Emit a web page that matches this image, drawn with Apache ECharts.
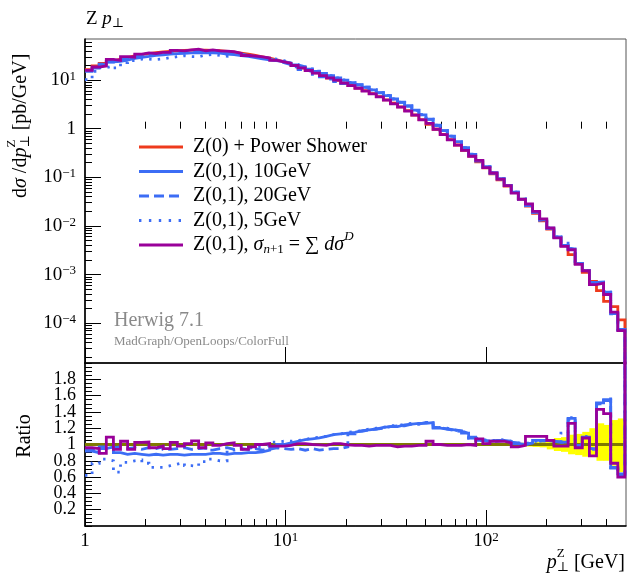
<!DOCTYPE html>
<html>
<head>
<meta charset="utf-8">
<title>Z pT</title>
<script src="https://cdn.jsdelivr.net/npm/echarts@6.0.0/dist/echarts.min.js"></script>
<style>
html, body { margin: 0; padding: 0; background: #ffffff; }
#chart { width: 627px; height: 580px; }
</style>
</head>
<body>
<div id="chart"></div>
<script>
// Binning: 100 log-spaced bins between 1 and 3500 GeV; the axis shows 1-500 GeV.
const binCount = 100;
const binLow = 1;
const binHigh = 3500;
const ptAxisMin = 1;
const ptAxisMax = 500;

// Z(0) + Power Shower, dsigma/dpT [pb/GeV], bins 0-76 (bin 76 is empty)
const powerShower = [
  16.4, 19.5, 21.9, 24.5, 26.9, 29.2, 31.4, 33.3, 35.1, 36.6,
  37.8, 38.9, 39.8, 40.6, 41.1, 41.4, 41.3, 40.8, 40.0, 38.8,
  37.4, 35.8, 34.0, 32.1, 30.1, 28.1, 26.0, 24.0, 22.1, 19.7,
  17.6, 15.7, 14.0, 12.4, 11.0, 9.82, 8.71, 7.73, 6.84, 6.03,
  5.26, 4.56, 3.92, 3.34, 2.82, 2.34, 1.91, 1.53, 1.23, 0.973,
  0.764, 0.596, 0.462, 0.357, 0.274, 0.208, 0.157, 0.118, 0.0885, 0.0659,
  0.0488, 0.0356, 0.0257, 0.0182, 0.0127, 0.00863, 0.00581, 0.00388, 0.00257, 0.00169,
  0.00111, 0.000724, 0.000467, 0.000282, 0.000219, 0.000117, 0
];

// Ratios to Z(0) + Power Shower, bins 0-75
const ratio10GeV = [
  0.92, 0.90, 0.95, 0.97, 0.90, 0.88, 0.89, 0.88, 0.87, 0.88,
  0.87, 0.88, 0.88, 0.87, 0.88, 0.88, 0.88, 0.89, 0.89, 0.88,
  0.89, 0.89, 0.90, 0.90, 0.91, 0.93, 0.96, 1.00, 1.02, 1.04,
  1.06, 1.07, 1.08, 1.10, 1.12, 1.13, 1.14, 1.15, 1.17, 1.18,
  1.19, 1.21, 1.22, 1.22, 1.24, 1.25, 1.26, 1.26, 1.27, 1.20,
  1.19, 1.18, 1.17, 1.14, 1.08, 1.05, 1.04, 1.05, 1.05, 1.04,
  1.01, 1.00, 1.02, 1.05, 1.05, 1.04, 1.03, 1.03, 1.32, 0.99,
  1.09, 0.95, 1.51, 1.55, 0.72, 0.64
];
const ratio20GeV = [
  0.95, 0.93, 0.97, 0.96, 0.97, 0.95, 0.96, 0.94, 0.96, 0.95,
  0.97, 0.94, 0.95, 0.96, 0.94, 0.95, 0.96, 0.93, 0.95, 0.96,
  0.94, 0.95, 0.94, 0.95, 0.93, 0.94, 0.96, 0.95, 0.94, 0.95,
  0.93, 0.95, 0.93, 0.94, 0.95, 0.95, 0.97, 1.13, 1.16, 1.18,
  1.19, 1.20, 1.22, 1.23, 1.23, 1.25, 1.25, 1.27, 1.26, 1.21,
  1.19, 1.17, 1.16, 1.14, 1.09, 1.05, 1.04, 1.04, 1.05, 1.03,
  1.02, 1.00, 1.02, 1.04, 1.05, 1.04, 1.03, 1.02, 1.31, 1.00,
  1.08, 0.94, 1.50, 1.54, 0.71, 0.63
];
const ratio5GeV = [
  0.62, 0.77, 0.82, 0.80, 0.66, 0.78, 0.80, 0.81, 0.77, 0.72,
  0.72, 0.74, 0.76, 0.78, 0.74, 0.73, 0.79, 0.82, 0.80, 0.80,
  0.93, 0.94, 0.95, 0.97, 0.98, 1.00, 1.03, 1.04, 1.04, 1.05,
  1.06, 1.08, 1.09, 1.10, 1.12, 1.13, 1.15, 1.16, 1.17, 1.19,
  1.20, 1.21, 1.23, 1.23, 1.25, 1.26, 1.25, 1.27, 1.27, 1.21,
  1.20, 1.18, 1.16, 1.14, 1.08, 1.06, 1.05, 1.05, 1.06, 1.04,
  1.02, 1.01, 1.03, 1.05, 1.04, 1.05, 1.03, 1.14, 1.33, 0.99,
  1.10, 0.95, 1.50, 1.56, 0.72, 0.62
];
const ratioSigma = [
  0.96, 0.95, 0.89, 1.09, 0.94, 1.04, 0.94, 1.025, 1.03, 0.96,
  0.98, 0.95, 1.025, 0.98, 1.01, 1.045, 0.96, 1.02, 0.99, 1.01,
  1.02, 0.99, 0.94, 0.97, 1.00, 1.01, 0.98, 0.98, 0.99, 1.01,
  1.01, 1.00, 0.995, 0.99, 1.01, 1.01, 0.995, 0.99, 0.99, 0.98,
  0.99, 0.99, 0.99, 0.97, 0.98, 0.98, 0.99, 0.99, 1.04, 1.00,
  0.99, 0.99, 0.99, 1.00, 0.99, 1.07, 1.01, 1.04, 1.04, 1.02,
  0.97, 0.99, 1.10, 1.10, 1.10, 1.05, 0.98, 0.98, 1.26, 0.96,
  1.08, 0.86, 1.43, 1.38, 0.77, 0.60
];

// Relative statistical uncertainty of Z(0) + Power Shower, bins 0-75
const bandUp = [
  0.008, 0.008, 0.008, 0.008, 0.008, 0.008, 0.008, 0.008, 0.008, 0.008,
  0.008, 0.008, 0.008, 0.008, 0.008, 0.008, 0.008, 0.008, 0.008, 0.008,
  0.008, 0.008, 0.008, 0.008, 0.008, 0.008, 0.008, 0.008, 0.008, 0.008,
  0.008, 0.008, 0.008, 0.008, 0.008, 0.008, 0.008, 0.008, 0.008, 0.008,
  0.008, 0.008, 0.008, 0.008, 0.008, 0.008, 0.008, 0.008, 0.008, 0.008,
  0.008, 0.009, 0.009, 0.009, 0.010, 0.010, 0.010, 0.012, 0.014, 0.016,
  0.020, 0.022, 0.025, 0.030, 0.035, 0.060, 0.080, 0.090, 0.120, 0.130,
  0.155, 0.200, 0.260, 0.240, 0.300, 0.320
];
const bandDown = [
  0.008, 0.008, 0.008, 0.008, 0.008, 0.008, 0.008, 0.008, 0.008, 0.008,
  0.008, 0.008, 0.008, 0.008, 0.008, 0.008, 0.008, 0.008, 0.008, 0.008,
  0.008, 0.008, 0.008, 0.008, 0.008, 0.008, 0.008, 0.008, 0.008, 0.008,
  0.008, 0.008, 0.008, 0.008, 0.008, 0.008, 0.008, 0.008, 0.008, 0.008,
  0.008, 0.008, 0.008, 0.008, 0.008, 0.008, 0.008, 0.008, 0.008, 0.008,
  0.008, 0.009, 0.009, 0.009, 0.010, 0.010, 0.010, 0.012, 0.014, 0.016,
  0.020, 0.022, 0.025, 0.030, 0.035, 0.060, 0.080, 0.090, 0.120, 0.130,
  0.150, 0.150, 0.200, 0.200, 0.260, 0.340
];

// Axis ticks
const ptMajorTicks = [1, 10, 100];
const ptMinorTicks = [2, 3, 4, 5, 6, 7, 8, 9, 20, 30, 40, 50, 60, 70, 80, 90, 200, 300, 400];
const xsecMajorTicks = [1e-4, 1e-3, 1e-2, 1e-1, 1, 10];
const xsecAxisMin = 1.52e-5;
const xsecAxisMax = 69.8;
const ratioTicks = [0.2, 0.4, 0.6, 0.8, 1.0, 1.2, 1.4, 1.6, 1.8];
const ratioMinorStep = 0.05;
const ratioAxisMin = 0;
const ratioAxisMax = 2;

const legendLabels = ['Z(0) + Power Shower', 'Z(0,1), 10GeV', 'Z(0,1), 20GeV', 'Z(0,1), 5GeV'];

const COLORS = { red: '#ee3a1c', blue: '#3c6df5', purple: '#990099', olive: '#7f7a00', band: '#ffff00' };
const FONT = '"Liberation Serif", "DejaVu Serif", serif';
const LW = 2.8;
const DASH = [10, 5];
const DOT = [2.4, 6.2];

// ---------- helpers ----------
const lg = Math.log10;
const logStep = lg(binHigh / binLow) / binCount;
const edge = k => lg(binLow) + k * logStep;
const LOG_FLOOR = -9;   // empty bins run off the bottom of the log panel
const OFF_TOP = 5;      // undefined ratios run off the top of the ratio panel

function stepPoints(values) {
  const pts = [];
  values.forEach((v, k) => { pts.push([edge(k), v], [edge(k + 1), v]); });
  return pts;
}
function spectrum(ratio) {
  return powerShower.map((v, k) => {
    const y = ratio ? (k < ratio.length ? v * ratio[k] : 0) : v;
    return y > 0 ? lg(y) : LOG_FLOOR;
  });
}
function ratioLine(ratio) {
  return powerShower.map((v, k) => (v > 0 && k < ratio.length) ? ratio[k] : OFF_TOP);
}

const measureCtx = document.createElement('canvas').getContext('2d');
function fontOf(size, italic) { return (italic ? 'italic ' : '') + size + 'px ' + FONT; }
function textW(t, size, italic) { measureCtx.font = fontOf(size, italic); return measureCtx.measureText(t).width; }

// lays out text pieces along one line; pieces can be raised/lowered and stacked
function mathRun(pieces, size, color) {
  let x = 0, pending = 0;
  const children = [];
  pieces.forEach(p => {
    const s = p.size || size;
    children.push({
      type: 'text', x: x, y: p.dy || 0, silent: true,
      style: { text: p.t, font: fontOf(s, p.italic), fill: color || '#000',
               align: 'left', verticalAlign: 'middle', textAlign: 'left', textVerticalAlign: 'middle' }
    });
    const w = textW(p.t, s, p.italic);
    if (p.stack) { pending = Math.max(pending, w); }
    else { x += Math.max(w, pending); pending = 0; }
  });
  return { children, width: x };
}

// ---------- axes ----------
const richNum = {
  b: { fontFamily: FONT, fontSize: 19, lineHeight: 20, color: '#000' },
  s: { fontFamily: FONT, fontSize: 13, lineHeight: 5, verticalAlign: 'top', color: '#000' }
};
function powLabel(n) {
  if (n === 0) return '{b|1}';
  return '{b|10}{s|' + (n < 0 ? '\u2212' + (-n) : n) + '}';
}
const tickStyle = { color: '#000', width: 1 };

function ptAxes(gridIndex, withLabels) {
  const base = { type: 'value', gridIndex, min: lg(ptAxisMin), max: lg(ptAxisMax), position: 'bottom',
                 splitLine: { show: false } };
  return [
    Object.assign({}, base, {
      axisLine: { show: true, onZero: false, lineStyle: { color: '#000', width: 1.6 } },
      axisTick: { show: true, inside: true, length: 16, customValues: ptMajorTicks.map(lg), lineStyle: tickStyle },
      axisLabel: { show: withLabels, customValues: ptMajorTicks.map(lg), margin: 5, rich: richNum,
                   showMinLabel: true, showMaxLabel: true, hideOverlap: false,
                   formatter: v => powLabel(Math.round(v)) }
    }),
    Object.assign({}, base, {
      axisLine: { show: false },
      axisTick: { show: true, inside: true, length: 7, customValues: ptMinorTicks.map(lg), lineStyle: tickStyle },
      axisLabel: { show: false }
    })
  ];
}

const xsecMinor = [];
for (let n = -5; n <= 1; n++) for (let m = 2; m <= 9; m++) xsecMinor.push(n + lg(m));
const ratioMinor = [];
for (let r = ratioAxisMin; r <= ratioAxisMax + 1e-9; r += ratioMinorStep) ratioMinor.push(+r.toFixed(2));

// the ratio labels sit close together, so they are shared between the two stacked ratio axes
const ratioLabelsA = ratioTicks.filter((v, i) => i % 2 === 0);
const ratioLabelsB = ratioTicks.filter((v, i) => i % 2 === 1);
const ratioLabelStyle = (values) => ({
  show: true, customValues: values, margin: 9, fontFamily: FONT, fontSize: 18, lineHeight: 13,
  color: '#000', showMinLabel: true, showMaxLabel: true, hideOverlap: false,
  formatter: v => Math.abs(v - 1) < 1e-9 ? '1' : v.toFixed(1)
});

const yAxes = [
  { type: 'value', gridIndex: 0, min: lg(xsecAxisMin), max: lg(xsecAxisMax), position: 'left', splitLine: { show: false },
    axisLine: { show: true, onZero: false, lineStyle: { color: '#000', width: 1.6 } },
    axisTick: { show: true, inside: true, length: 16, customValues: xsecMajorTicks.map(lg), lineStyle: tickStyle },
    axisLabel: { show: true, customValues: xsecMajorTicks.map(lg), margin: 9, rich: richNum, align: 'right',
                 showMinLabel: true, showMaxLabel: true, hideOverlap: false,
                 formatter: v => powLabel(Math.round(v)) } },
  { type: 'value', gridIndex: 0, min: lg(xsecAxisMin), max: lg(xsecAxisMax), position: 'left', splitLine: { show: false },
    axisLine: { show: false },
    axisTick: { show: true, inside: true, length: 7, customValues: xsecMinor, lineStyle: tickStyle },
    axisLabel: { show: false } },
  { type: 'value', gridIndex: 1, min: ratioAxisMin, max: ratioAxisMax, position: 'left', splitLine: { show: false },
    axisLine: { show: true, onZero: false, lineStyle: { color: '#000', width: 1.6 } },
    axisTick: { show: true, inside: true, length: 16, customValues: ratioTicks, lineStyle: tickStyle },
    axisLabel: ratioLabelStyle(ratioLabelsA) },
  { type: 'value', gridIndex: 1, min: ratioAxisMin, max: ratioAxisMax, position: 'left', splitLine: { show: false },
    axisLine: { show: false },
    axisTick: { show: true, inside: true, length: 7, customValues: ratioMinor, lineStyle: tickStyle },
    axisLabel: ratioLabelStyle(ratioLabelsB) }
];

// ---------- series ----------
function histLine(name, values, xi, yi, color, type, z) {
  return {
    name, type: 'line', xAxisIndex: xi, yAxisIndex: yi, data: stepPoints(values),
    showSymbol: false, symbol: 'none', clip: true, z: z, animation: false, silent: true,
    lineStyle: { color, width: LW, type: type || 'solid', cap: 'butt', join: 'miter' }
  };
}

const bandData = bandUp.map((u, k) => [edge(k), edge(k + 1), 1 - bandDown[k], 1 + u]);

const series = [
  histLine(legendLabels[0], spectrum(null), 0, 0, COLORS.red, 'solid', 2),
  histLine(legendLabels[1], spectrum(ratio10GeV), 0, 0, COLORS.blue, 'solid', 3),
  histLine(legendLabels[2], spectrum(ratio20GeV), 0, 0, COLORS.blue, DASH, 4),
  histLine(legendLabels[3], spectrum(ratio5GeV), 0, 0, COLORS.blue, DOT, 5),
  histLine('sigma', spectrum(ratioSigma), 0, 0, COLORS.purple, 'solid', 6),
  {
    name: 'band', type: 'custom', xAxisIndex: 2, yAxisIndex: 2, data: bandData, clip: true, silent: true,
    animation: false, z: 1, encode: { x: [0, 1], y: [2, 3] },
    renderItem: (params, api) => {
      const a = api.coord([api.value(0), api.value(3)]);
      const b = api.coord([api.value(1), api.value(2)]);
      return { type: 'rect', shape: { x: a[0], y: a[1], width: b[0] - a[0] + 0.6, height: b[1] - a[1] },
               style: { fill: COLORS.band } };
    }
  },
  histLine('reference', ratioSigma.map(() => 1), 2, 2, COLORS.olive, 'solid', 2),
  histLine('r10', ratioLine(ratio10GeV), 2, 2, COLORS.blue, 'solid', 3),
  histLine('r20', ratioLine(ratio20GeV), 2, 2, COLORS.blue, DASH, 4),
  histLine('r5', ratioLine(ratio5GeV), 2, 2, COLORS.blue, DOT, 5),
  histLine('rsigma', ratioLine(ratioSigma), 2, 2, COLORS.purple, 'solid', 6)
];

// ---------- text and legend ----------
const graphics = [];

const title = mathRun([{ t: 'Z ' }, { t: 'p', italic: true }, { t: '\u22A5', size: 13, dy: 5 }], 19);
graphics.push({ type: 'group', x: 86, y: 19, children: title.children });

const yTitle = mathRun([
  { t: 'd' }, { t: '\u03C3', italic: true }, { t: ' /d' }, { t: 'p', italic: true },
  { t: 'Z', size: 13, dy: -9, stack: true }, { t: '\u22A5', size: 13, dy: 5 }, { t: ' [pb/GeV]' }
], 20);
graphics.push({ type: 'group', x: 21, y: 198, rotation: Math.PI / 2, children: yTitle.children });

graphics.push({ type: 'text', x: 25, y: 436, rotation: Math.PI / 2, silent: true,
  style: { text: 'Ratio', font: fontOf(20, false), fill: '#000', align: 'center', verticalAlign: 'middle',
           textAlign: 'center', textVerticalAlign: 'middle' } });

const xTitle = mathRun([
  { t: 'p', italic: true }, { t: 'Z', size: 13, dy: -9, stack: true }, { t: '\u22A5', size: 13, dy: 5 }, { t: ' [GeV]' }
], 20);
graphics.push({ type: 'group', x: 625 - xTitle.width, y: 563, children: xTitle.children });

// legend
const legendRows = [
  { color: COLORS.red, dash: null, label: [{ t: legendLabels[0] }] },
  { color: COLORS.blue, dash: null, label: [{ t: legendLabels[1] }] },
  { color: COLORS.blue, dash: DASH, label: [{ t: legendLabels[2] }] },
  { color: COLORS.blue, dash: [2.4, 7.5], label: [{ t: legendLabels[3] }] },
  { color: COLORS.purple, dash: null, label: [
      { t: 'Z(0,1), ' }, { t: '\u03C3', italic: true }, { t: 'n', size: 13, italic: true, dy: 5 },
      { t: '+1', size: 13, dy: 5 }, { t: ' = ' }, { t: '\u2211' }, { t: ' d', italic: true },
      { t: '\u03C3', italic: true }, { t: 'D', size: 13, italic: true, dy: -8 }] }
];
const legendY = [147, 171.5, 196, 220.5, 245];
legendRows.forEach((row, i) => {
  const y = legendY[i];
  graphics.push({ type: 'line', silent: true, shape: { x1: 139, y1: y, x2: 183, y2: y },
    style: { stroke: row.color, lineWidth: LW, lineDash: row.dash || null } });
  const run = mathRun(row.label, 20);
  graphics.push({ type: 'group', x: 193, y: y, children: run.children });
});

graphics.push({ type: 'text', x: 114, y: 321, silent: true,
  style: { text: 'Herwig 7.1', font: fontOf(20, false), fill: '#8a8a8a', align: 'left', verticalAlign: 'middle',
           textAlign: 'left', textVerticalAlign: 'middle' } });
graphics.push({ type: 'text', x: 114, y: 342, silent: true,
  style: { text: 'MadGraph/OpenLoops/ColorFull', font: fontOf(13, false), fill: '#8a8a8a', align: 'left',
           verticalAlign: 'middle', textAlign: 'left', textVerticalAlign: 'middle' } });

const option = {
  animation: false,
  backgroundColor: '#ffffff',
  grid: [
    { left: 85, right: 1, top: 39, height: 324, show: true, borderColor: '#555', borderWidth: 1, backgroundColor: 'transparent' },
    { left: 85, right: 1, top: 363, height: 163, show: true, borderColor: '#555', borderWidth: 1, backgroundColor: 'transparent' }
  ],
  xAxis: ptAxes(0, false).concat(ptAxes(1, true)),
  yAxis: yAxes,
  series: series,
  graphic: { elements: graphics }
};

const chart = echarts.init(document.getElementById('chart'), null, { renderer: 'canvas' });
chart.setOption(option);
</script>
</body>
</html>
